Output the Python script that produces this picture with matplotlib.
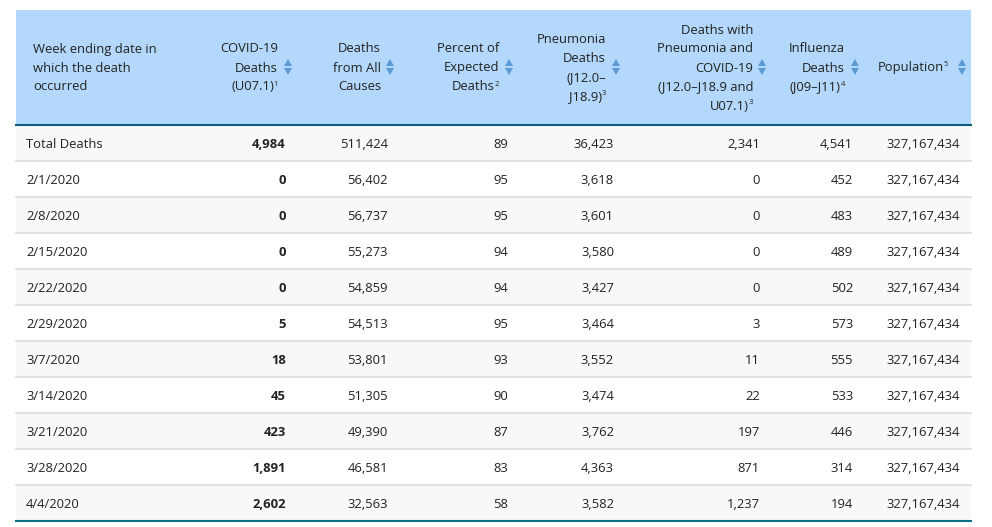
import matplotlib
matplotlib.use("Agg")
import matplotlib.pyplot as plt
from matplotlib.patches import Rectangle, Polygon

plt.rcParams['font.family'] = ['Open Sans', 'DejaVu Sans']

# data
weeks = ["Total Deaths", "2/1/2020", "2/8/2020", "2/15/2020", "2/22/2020", "2/29/2020",
         "3/7/2020", "3/14/2020", "3/21/2020", "3/28/2020", "4/4/2020"]
covid = [4984, 0, 0, 0, 0, 5, 18, 45, 423, 1891, 2602]
all_causes = [511424, 56402, 56737, 55273, 54859, 54513, 53801, 51305, 49390, 46581, 32563]
pct_expected = [89, 95, 95, 94, 94, 95, 93, 90, 87, 83, 58]
pneumonia = [36423, 3618, 3601, 3580, 3427, 3464, 3552, 3474, 3762, 4363, 3582]
pneu_covid = [2341, 0, 0, 0, 0, 3, 11, 22, 197, 871, 1237]
influenza = [4541, 452, 483, 489, 502, 573, 555, 533, 446, 314, 194]
population = [327167434] * 11

# header lines; "^n" at the end marks a footnote superscript
headers = [
    ["Week ending date in", "which the death", "occurred"],
    ["COVID-19", "Deaths", "(U07.1)^1"],
    ["Deaths", "from All", "Causes"],
    ["Percent of", "Expected", "Deaths^2"],
    ["Pneumonia", "Deaths", "(J12.0\u2013", "J18.9)^3"],
    ["Deaths with", "Pneumonia and", "COVID-19", "(J12.0\u2013J18.9 and", "U07.1)^3"],
    ["Influenza", "Deaths", "(J09\u2013J11)^4"],
    ["Population^5"],
]

W, H = 992, 527
fig = plt.figure(figsize=(W / 100, H / 100), dpi=100)
ax = fig.add_axes([0, 0, 1, 1])
ax.set_xlim(0, W)
ax.set_ylim(H, 0)
ax.set_axis_off()

left, right = 16, 971
head_top, head_bot = 10, 125
row_h = 36
fs = 9.4
txt = "#222222"
arrow_c = "#5b9bd5"

ax.add_patch(Rectangle((left, head_top), right - left, head_bot - head_top,
                       facecolor="#b3d8fb", edgecolor="none"))

# column right edges for header text and data, sort icon x
head_right = [None, 278, 381, 499, 606, 753, 845, 948]
data_right = [None, 286, 388, 508, 614, 760, 853, 960]
icon_x = [None, 288, 390, 509, 616, 762, 855, 962]

mid = 67
line_gap = 19
for j, lines in enumerate(headers):
    n = len(lines)
    y0 = mid - (n - 1) * line_gap / 2
    for k, s in enumerate(lines):
        y = y0 + k * line_gap + 4.5
        if j == 0:
            ax.text(33, y, s, ha="left", va="baseline", fontsize=fs, color=txt)
            continue
        if "^" in s:
            base, sup = s.split("^")
            ax.text(head_right[j], y - 5, sup, ha="right", va="baseline",
                    fontsize=5.5, color=txt)
            ax.text(head_right[j] - 4, y, base, ha="right", va="baseline",
                    fontsize=fs, color=txt)
        else:
            ax.text(head_right[j], y, s, ha="right", va="baseline", fontsize=fs, color=txt)
    if j > 0:
        cx = icon_x[j]
        ax.add_patch(Polygon([[cx - 4, mid - 1], [cx + 4, mid - 1], [cx, mid - 8]],
                             closed=True, facecolor=arrow_c, edgecolor="none"))
        ax.add_patch(Polygon([[cx - 4, mid + 1], [cx + 4, mid + 1], [cx, mid + 8]],
                             closed=True, facecolor=arrow_c, edgecolor="none"))

cols = [covid, all_causes, pct_expected, pneumonia, pneu_covid, influenza, population]
for i, w in enumerate(weeks):
    top = head_bot + i * row_h
    if i % 2 == 0:
        ax.add_patch(Rectangle((left, top), right - left, row_h,
                               facecolor="#f8f8f8", edgecolor="none"))
    yb = top + row_h / 2 + 5
    ax.text(26, yb, w, ha="left", va="baseline", fontsize=fs, color=txt)
    for j, col in enumerate(cols):
        ax.text(data_right[j + 1], yb, f"{col[i]:,}", ha="right", va="baseline",
                fontsize=fs, color=txt, fontweight="bold" if j == 0 else "normal")
    if i < len(weeks) - 1:
        ax.plot([left, right], [top + row_h, top + row_h], color="#dcdcdc", lw=1.2)

ax.plot([left, right], [head_bot, head_bot], color="#0b5f7d", lw=1.5)
bottom = head_bot + len(weeks) * row_h
ax.plot([left, right], [bottom, bottom], color="#0b6f8a", lw=1.5)

fig.savefig("out.png", dpi=100)
